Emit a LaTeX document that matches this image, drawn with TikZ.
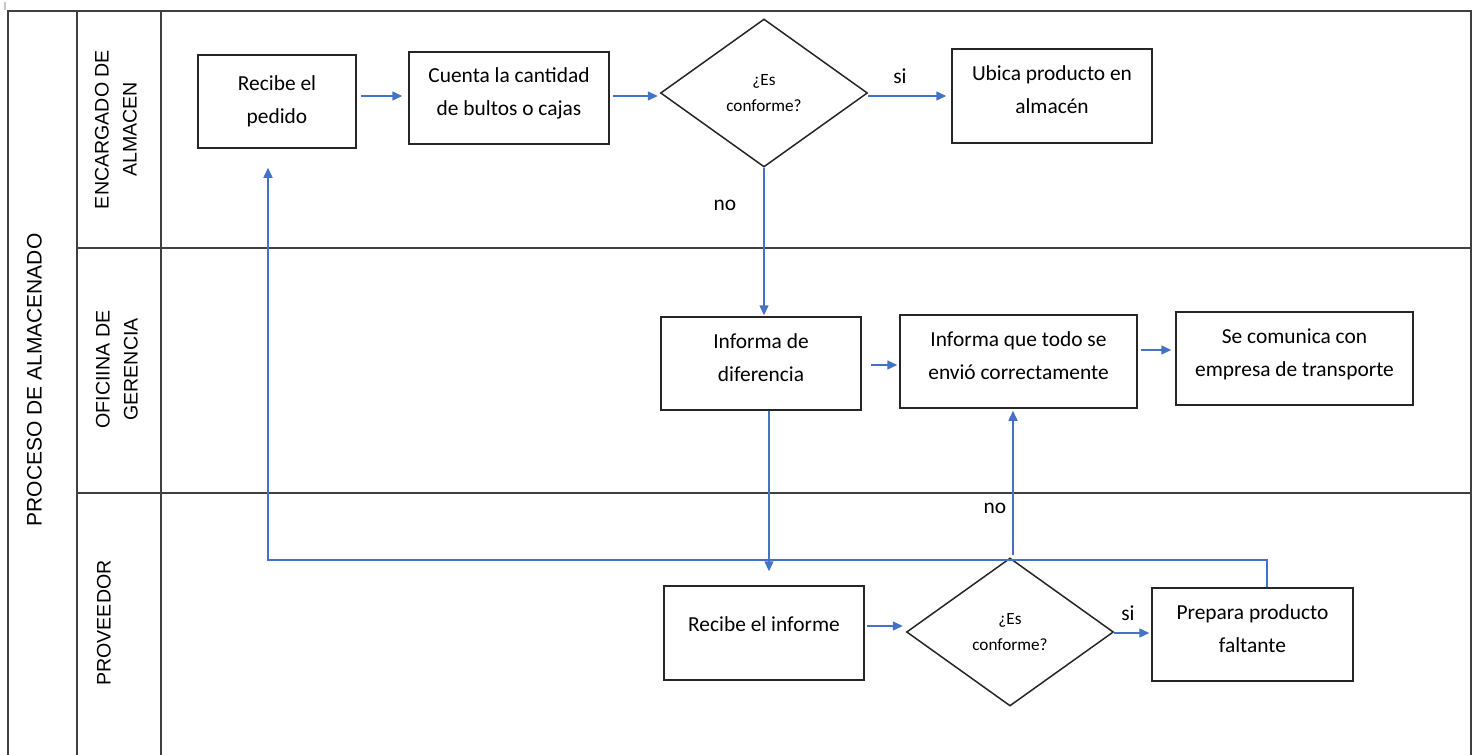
\documentclass[tikz,border=0pt]{standalone}
\usepackage{fontspec}
\setmainfont{Carlito}
\newfontfamily\lanefont{Liberation Sans}
\usetikzlibrary{shapes.geometric,arrows.meta}
\definecolor{flowblue}{HTML}{4472C4}
\definecolor{framegray}{HTML}{404040}
\definecolor{boxline}{HTML}{262626}
% invisible strut that deepens the last line, lifting the text in its box
\newcommand{\tailstrut}{\rule[-6pt]{0pt}{0pt}}
\begin{document}
\begin{tikzpicture}[x=0.5pt,y=-0.5pt,
  frame/.style={draw=framegray,line width=1pt},
  stepbox/.style={rectangle,draw=boxline,line width=0.75pt,align=center,
    font=\fontsize{10.7}{16.5}\selectfont,inner sep=0pt},
  decision/.style={diamond,draw=boxline,line width=0.75pt,align=center,
    font=\fontsize{8.6}{13}\selectfont,inner sep=0pt,
    minimum width=103.5pt,minimum height=74pt},
  lanelabel/.style={rotate=90,align=center,inner sep=0pt,
    font=\lanefont\fontsize{9.8}{14}\selectfont},
  flowlabel/.style={inner sep=0pt,font=\fontsize{10.7}{13}\selectfont},
  arr/.style={draw=flowblue,line width=0.75pt,
    -{Triangle[length=5pt,width=4.5pt]},color=flowblue}
]
\useasboundingbox (0,0) rectangle (1480,755);

% small mark in the upper left corner
\draw[gray!45,line width=1pt] (5,2) -- (5,10);

% pool and swimlanes
\draw[frame] (8,755) -- (8,11) -- (1471,11) -- (1471,755);
\draw[frame] (77,11) -- (77,755);
\draw[frame] (161,11) -- (161,755);
\draw[frame] (77,248) -- (1471,248);
\draw[frame] (77,493) -- (1471,493);

\node[lanelabel,font=\lanefont\fontsize{10.5}{14}\selectfont] (pool) at (34.5,380) {PROCESO DE ALMACENADO};
\node[lanelabel] (lane1) at (116,129.5) {ENCARGADO DE\\ALMACEN};
\node[lanelabel] (lane2) at (117,369.5) {OFICIINA DE\\GERENCIA};
\node[lanelabel] (lane3) at (104,623) {PROVEEDOR};

% lane 1: almacen
\node[stepbox,minimum width=79pt,minimum height=46.5pt] (pedido) at (277,101.5) {Recibe el\\pedido};
\node[stepbox,minimum width=100pt,minimum height=46pt] (cuenta) at (509,98) {Cuenta la cantidad\\de bultos o cajas\tailstrut};
\node[decision] (dia1) at (764,93) {¿Es\\conforme?};
\node[stepbox,minimum width=100pt,minimum height=47pt] (ubica) at (1052,96) {Ubica producto en\\almacén\tailstrut};

% lane 2: gerencia
\node[stepbox,minimum width=100pt,minimum height=46.5pt] (difer) at (761,363.5) {Informa de\\diferencia\tailstrut};
\node[stepbox,minimum width=118.5pt,minimum height=46.5pt] (todo) at (1018.5,361.5) {Informa que todo se\\envió correctamente\tailstrut};
\node[stepbox,minimum width=118.5pt,minimum height=46.5pt] (comunica) at (1294.5,358.5) {Se comunica con\\empresa de transporte\tailstrut};

% lane 3: proveedor
\node[stepbox,minimum width=100pt,minimum height=47pt,text depth=9pt] (informe) at (764,633) {Recibe el informe};
\node[decision] (dia2) at (1010,632) {¿Es\\conforme?};
\node[stepbox,minimum width=100.5pt,minimum height=46.5pt] (prepara) at (1252.5,634.5) {Prepara producto\\faltante\tailstrut};

% connectors
\draw[arr,shorten <=2pt,shorten >=3pt] (pedido.east |- 0,96) -- (cuenta.west |- 0,96);
\draw[arr,shorten <=1.5pt,shorten >=1pt] (cuenta.east |- 0,96) -- (dia1.west |- 0,96);
\draw[arr,shorten >=2.5pt] (dia1.east |- 0,96) -- (ubica.west |- 0,96);
\node[flowlabel] (si1) at (900,76) {si};
\draw[arr,shorten >=0.5pt] (dia1.south) -- (dia1.south |- difer.north);
\node[flowlabel] (no1) at (725,205) {no};

\draw[arr,shorten <=4.5pt,shorten >=1pt] (difer.east |- 0,365) -- (todo.west |- 0,365);
\draw[arr,shorten <=1.5pt,shorten >=2pt] (todo.east |- 0,350) -- (comunica.west |- 0,350);
\draw[arr,shorten >=7pt] (769,0 |- difer.south) -- (769,0 |- informe.north);

\draw[arr,shorten <=1pt,shorten >=1.5pt] (informe.east |- 0,626) -- (dia2.west |- 0,626);
\draw[arr,shorten >=1pt] (dia2.east |- 0,633) -- (prepara.west |- 0,633);
\node[flowlabel] (si2) at (1128,613) {si};
\draw[arr,shorten <=1pt,shorten >=1pt] (1013,0 |- dia2.north) -- (1013,0 |- todo.south);
\node[flowlabel] (no2) at (995,508) {no};

\coordinate (retR) at (1267,560);
\coordinate (retL) at (268,560);
\draw[arr,shorten >=9.5pt] (1267,0 |- prepara.north) -- (retR) -- (retL) -- (268,0 |- pedido.south);
\end{tikzpicture}
\end{document}
